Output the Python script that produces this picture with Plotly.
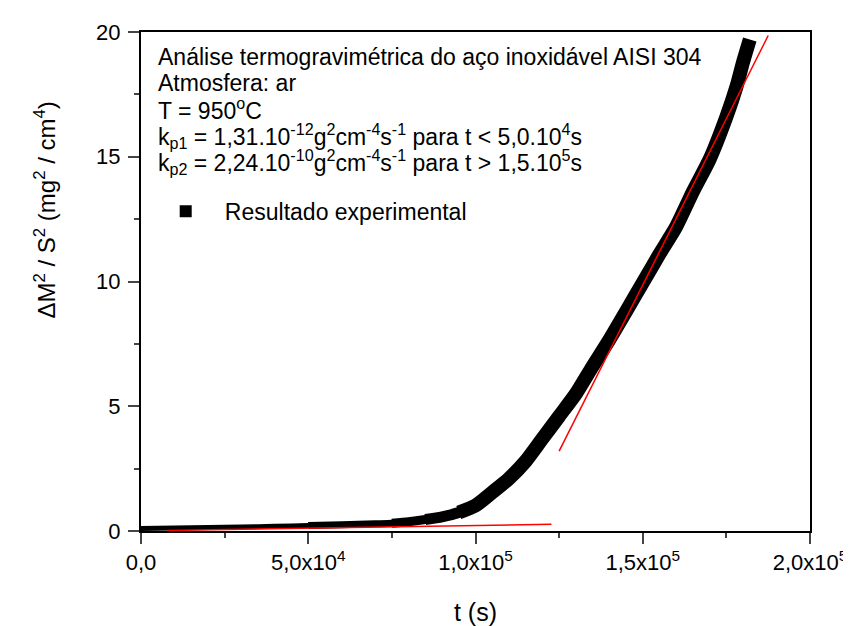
import plotly.graph_objects as go

# ---- data ----
t_exp = [0, 1.0e4, 2.0e4, 3.0e4, 4.0e4, 5.0e4, 6.0e4, 7.0e4, 7.5e4, 8.0e4, 8.5e4,
         9.0e4, 9.5e4, 1.0e5, 1.05e5, 1.1e5, 1.15e5, 1.2e5, 1.25e5, 1.3e5, 1.35e5,
         1.4e5, 1.45e5, 1.5e5, 1.55e5, 1.6e5, 1.65e5, 1.7e5, 1.75e5, 1.78e5, 1.8e5, 1.82e5]
v_exp = [0.10, 0.12, 0.14, 0.16, 0.19, 0.22, 0.25, 0.29, 0.31, 0.37, 0.46,
         0.57, 0.74, 1.02, 1.55, 2.1, 2.8, 3.7, 4.6, 5.5, 6.6,
         7.66, 8.8, 9.95, 11.1, 12.2, 13.6, 14.9, 16.6, 17.8, 18.8, 19.7]

fit1_t = [8.0e3, 1.227e5]
fit1_v = [0.02, 0.27]
fit2_t = [1.25e5, 1.875e5]
fit2_v = [3.2, 19.86]

x_tickvals = [0, 5.0e4, 1.0e5, 1.5e5, 2.0e5]
x_ticktext = ["0,0", "5,0x10<sup>4</sup>", "1,0x10<sup>5</sup>", "1,5x10<sup>5</sup>", "2,0x10<sup>5</sup>"]
y_tickvals = [0, 5, 10, 15, 20]
y_ticktext = ["0", "5", "10", "15", "20"]

info_lines = [
    "Análise termogravimétrica do aço inoxidável AISI 304",
    "Atmosfera: ar",
    "T = 950<sup>o</sup>C",
    "k<sub>p1</sub> = 1,31.10<sup>-12</sup>g<sup>2</sup>cm<sup>-4</sup>s<sup>-1</sup> para t &lt; 5,0.10<sup>4</sup>s",
    "k<sub>p2</sub> = 2,24.10<sup>-10</sup>g<sup>2</sup>cm<sup>-4</sup>s<sup>-1</sup> para t &gt; 1,5.10<sup>5</sup>s",
]
info_y_px = [48, 75, 102, 129, 156]

FONT = "Liberation Sans, Arial, sans-serif"

fig = go.Figure()

# experimental band: the recorded points are so dense that they form a band
# whose thickness grows along the curve -> drawn as overlapping pieces
pieces = [(0, 7, 5), (5, 10, 7), (8, 13, 9), (10, 15, 11), (12, len(t_exp), 14)]
for a, b, w in pieces:
    fig.add_trace(go.Scatter(x=t_exp[a:b], y=v_exp[a:b], mode="lines",
                             line=dict(color="black", width=w, shape="spline", smoothing=0.6),
                             showlegend=False, hoverinfo="skip"))

# legend entry
fig.add_trace(go.Scatter(x=[None], y=[None], mode="markers",
                         marker=dict(symbol="square", color="black", size=12),
                         name="   Resultado experimental"))

# fitted lines
fig.add_trace(go.Scatter(x=fit1_t, y=fit1_v, mode="lines",
                         line=dict(color="red", width=1.5), showlegend=False))
fig.add_trace(go.Scatter(x=fit2_t, y=fit2_v, mode="lines",
                         line=dict(color="red", width=1.5), showlegend=False))

L, R, T, B = 133, 41, 23, 94
W, H = 851, 626
ph = H - T - B
pw = W - L - R

def ypaper(px):
    return (H - B - px) / ph

def xpaper(px):
    return (px - L) / pw

annotations = []
for txt, ypx in zip(info_lines, info_y_px):
    annotations.append(dict(text=txt, x=xpaper(148), y=ypaper(ypx),
                            xref="paper", yref="paper", xanchor="left", yanchor="middle",
                            showarrow=False, font=dict(family=FONT, size=23, color="black")))

annotations.append(dict(text="ΔM<sup>2</sup> / S<sup>2</sup> (mg<sup>2</sup> / cm<sup>4</sup>)",
                        textangle=-90, x=xpaper(36), y=ypaper(205),
                        xref="paper", yref="paper", xanchor="center", yanchor="middle",
                        showarrow=False, font=dict(family=FONT, size=24, color="black")))

fig.update_layout(
    width=W, height=H,
    margin=dict(l=L, r=R, t=T, b=B),
    plot_bgcolor="white", paper_bgcolor="white",
    font=dict(family=FONT, size=22, color="black"),
    annotations=annotations,
    legend=dict(x=xpaper(158), y=ypaper(206), xanchor="left", yanchor="middle",
                bgcolor="rgba(0,0,0,0)", font=dict(family=FONT, size=23, color="black")),
    xaxis=dict(range=[0, 2.0e5], tickmode="array", tickvals=x_tickvals, ticktext=x_ticktext,
               ticks="outside", ticklen=11, tickwidth=2, linecolor="black", linewidth=2,
               mirror=True, showgrid=False, zeroline=False,
               tickfont=dict(family=FONT, size=22),
               minor=dict(ticks="outside", ticklen=5, tickwidth=2, tickmode="linear",
                          tick0=0, dtick=2.5e4),
               title=dict(text="t (s)", font=dict(family=FONT, size=25), standoff=29)),
    yaxis=dict(range=[0, 20], tickmode="array", tickvals=y_tickvals, ticktext=y_ticktext,
               ticks="outside", ticklen=11, tickwidth=2, linecolor="black", linewidth=2,
               mirror=True, showgrid=False, zeroline=False, ticklabelstandoff=3,
               tickfont=dict(family=FONT, size=22),
               minor=dict(ticks="outside", ticklen=5, tickwidth=2, tickmode="linear",
                          tick0=0, dtick=2.5)),
)

fig.write_html("out.html")
